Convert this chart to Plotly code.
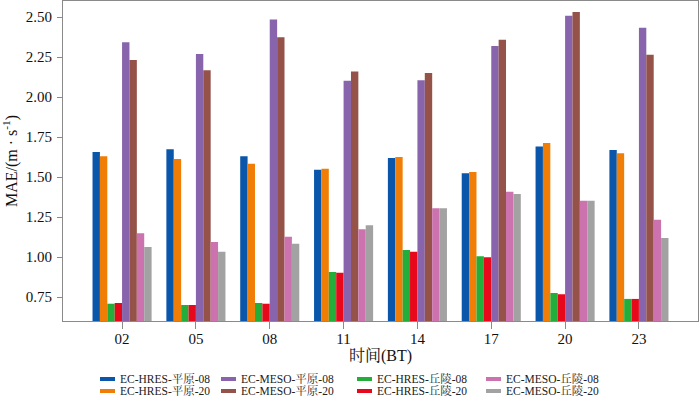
import plotly.graph_objects as go

categories = ["02", "05", "08", "11", "14", "17", "20", "23"]

hres_plain_08 = [1.656, 1.673, 1.629, 1.546, 1.619, 1.523, 1.690, 1.669]
hres_plain_20 = [1.629, 1.612, 1.583, 1.552, 1.625, 1.531, 1.712, 1.648]
hres_hill_08 = [0.708, 0.700, 0.712, 0.906, 1.044, 1.004, 0.775, 0.738]
hres_hill_20 = [0.712, 0.700, 0.708, 0.902, 1.033, 0.998, 0.767, 0.738]
meso_plain_08 = [2.342, 2.269, 2.485, 2.102, 2.104, 2.319, 2.508, 2.433]
meso_plain_20 = [2.231, 2.167, 2.373, 2.160, 2.150, 2.358, 2.531, 2.264]
meso_hill_08 = [1.148, 1.094, 1.127, 1.173, 1.304, 1.408, 1.352, 1.233]
meso_hill_20 = [1.062, 1.033, 1.083, 1.198, 1.304, 1.394, 1.352, 1.119]

series_names = [
    "EC-HRES-平原-08", "EC-HRES-平原-20", "EC-HRES-丘陵-08", "EC-HRES-丘陵-20",
    "EC-MESO-平原-08", "EC-MESO-平原-20", "EC-MESO-丘陵-08", "EC-MESO-丘陵-20",
]
series_values = [
    hres_plain_08, hres_plain_20, hres_hill_08, hres_hill_20,
    meso_plain_08, meso_plain_20, meso_hill_08, meso_hill_20,
]
colors = ["#0a56aa", "#f07d05", "#23ae3c", "#e8081c",
          "#8764ab", "#945248", "#cc72ae", "#a2a2a2"]
# legend grid slot (column, row) of each series
legend_col = [0, 0, 2, 2, 1, 1, 3, 3]
legend_row = [0, 1, 0, 1, 0, 1, 0, 1]

FONT = "Times, Noto Serif CJK SC, Noto Sans CJK SC, serif"

# plot-area geometry in pixels (used to place the hand-drawn legend)
W, H = 700, 396
ML, MR, MT, MB = 63, 2, 1, 75
PW, PH = W - ML - MR, H - MT - MB
col_x = [100, 221, 357, 486]   # swatch left edge, px
row_y = [379, 391]             # row centre, px


def px_x(x):
    return (x - ML) / PW


def px_y(y):
    return (H - MB - y) / PH


fig = go.Figure()
for name, vals, col in zip(series_names, series_values, colors):
    fig.add_trace(go.Bar(x=categories, y=vals, name=name, marker_color=col,
                         marker_line_width=0, showlegend=False))

for name, col, c, r in zip(series_names, colors, legend_col, legend_row):
    sx, cy = col_x[c], row_y[r]
    fig.add_shape(type="rect", xref="paper", yref="paper",
                  x0=px_x(sx), x1=px_x(sx + 15), y0=px_y(cy + 2), y1=px_y(cy - 2),
                  fillcolor=col, line_width=0)
    fig.add_annotation(xref="paper", yref="paper", x=px_x(sx + 18), y=px_y(cy - 0.5),
                       xanchor="left", yanchor="middle", showarrow=False,
                       text=name, font=dict(family=FONT, size=11.5, color="#222"))

fig.update_layout(
    width=W, height=H,
    margin=dict(l=ML, r=MR, t=MT, b=MB),
    paper_bgcolor="white", plot_bgcolor="white",
    barmode="group", bargap=0.2, bargroupgap=0,
    font=dict(family=FONT, size=15, color="#111"),
    showlegend=False,
)
fig.update_xaxes(
    type="category", range=[-0.8, 7.8], automargin=False,
    showline=True, linecolor="#8a8a8a", linewidth=1, mirror=True,
    ticks="outside", ticklen=7, tickcolor="#8a8a8a",
    showgrid=False, zeroline=False,
    title=dict(text="时间(BT)", font=dict(size=16), standoff=2),
    tickfont=dict(size=15), ticklabelstandoff=-3,
)
fig.update_yaxes(
    range=[0.6, 2.6], tickvals=[0.75, 1.0, 1.25, 1.5, 1.75, 2.0, 2.25, 2.5],
    tickformat=".2f", automargin=False,
    showline=True, linecolor="#8a8a8a", linewidth=1, mirror=True,
    ticks="outside", ticklen=5, tickcolor="#8a8a8a",
    showgrid=False, zeroline=False,
    title=dict(text="MAE/(m · s<sup>-1</sup>)", font=dict(size=16), standoff=6),
    tickfont=dict(size=15), ticklabelstandoff=2,
)

fig.write_html("out.html", config={"displayModeBar": False},
               post_script="document.body.style.margin='0';")
